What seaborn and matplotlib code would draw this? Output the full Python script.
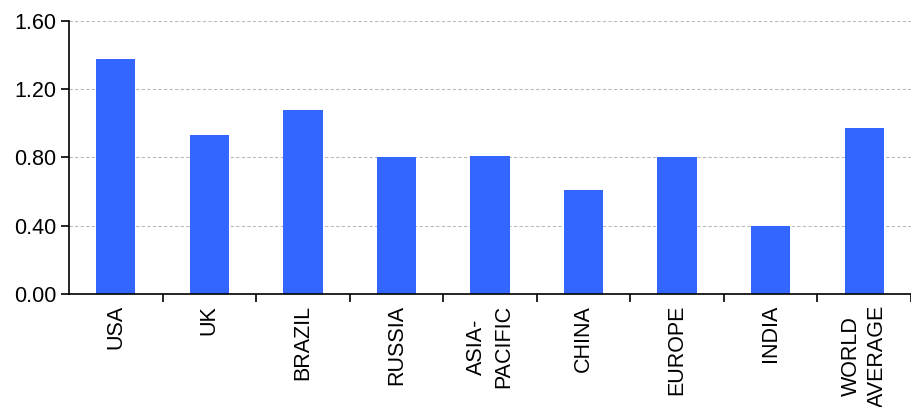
import matplotlib
matplotlib.use("Agg")
import matplotlib.pyplot as plt
import seaborn as sns
import pandas as pd
import numpy as np

categories = ["USA", "UK", "BRAZIL", "RUSSIA", "ASIA-\nPACIFIC", "CHINA", "EUROPE", "INDIA", "WORLD\nAVERAGE"]
values = [1.38, 0.93, 1.08, 0.80, 0.81, 0.61, 0.80, 0.40, 0.97]
yticks = [0.0, 0.4, 0.8, 1.2, 1.6]
ytick_labels = ["0.00", "0.40", "0.80", "1.20", "1.60"]

sns.set_theme(style="white")
plt.rcParams['font.family'] = ['Liberation Sans', 'DejaVu Sans']

df = pd.DataFrame({"cat": categories, "val": values})

fig = plt.figure(figsize=(9.11, 4.07), dpi=100)
ax = fig.add_axes([69/911, 1 - 294/407, 1 - 69/911, (294 - 21)/407])

sns.barplot(data=df, x="cat", y="val", color="#3366FF", saturation=1, width=0.42,
            linewidth=0, ax=ax, zorder=3)

ax.set_ylim(0, 1.6)
ax.set_xlim(-0.5, 8.46)
ax.set_yticks(yticks)
ax.set_yticklabels(ytick_labels, fontsize=15.5, color="#000000")
ax.set_xlabel("")
ax.set_ylabel("")

# category labels at centres (no tick marks), tick marks at boundaries
ax.set_xticks(np.arange(len(categories)))
ax.set_xticklabels(categories, rotation=90, fontsize=15.5, color="#000000", ha="center", va="top",
                   linespacing=1.35)
ax.tick_params(axis="x", which="major", length=0, pad=8)
ax.set_xticks(np.arange(len(categories)) + 0.5, minor=True)
ax.tick_params(axis="x", which="minor", length=6, width=1.2, color="black", direction="out", bottom=True)
ax.tick_params(axis="y", which="major", length=6, width=1.2, color="black", direction="out", left=True, pad=3)

for y in yticks[1:]:
    ax.axhline(y, color="#bbbbbb", lw=0.8, ls=(0, (3, 2)), zorder=1)

for s in ["top", "right"]:
    ax.spines[s].set_visible(False)
for s in ["left", "bottom"]:
    ax.spines[s].set_color("black")
    ax.spines[s].set_linewidth(1.2)
    ax.spines[s].set_zorder(4)

fig.savefig("out.png", dpi=100)
